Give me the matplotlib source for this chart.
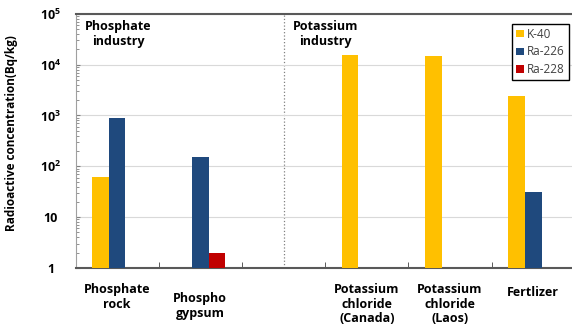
import numpy as np
import matplotlib
matplotlib.use("Agg")
import matplotlib.pyplot as plt
from matplotlib.ticker import FixedLocator, LogLocator, NullFormatter

plt.rcParams['font.family'] = ['Open Sans', 'DejaVu Sans']
plt.rcParams['mathtext.fontset'] = 'custom'
plt.rcParams['mathtext.rm'] = 'Open Sans:bold'
plt.rcParams['mathtext.bf'] = 'Open Sans:bold'

# categories (slot 2 is an empty separator between the two industries)
categories = ['Phosphate\nrock', 'Phospho\ngypsum', '',
              'Potassium\nchloride\n(Canada)', 'Potassium\nchloride\n(Laos)', 'Fertlizer']
k40 = [63, np.nan, np.nan, 15600, 14900, 2430]
ra226 = [885, 151, np.nan, np.nan, np.nan, 31.8]
ra228 = [np.nan, 2.0, np.nan, np.nan, np.nan, np.nan]
series = ['K-40', 'Ra-226', 'Ra-228']
colors = ['#FFC000', '#1F497D', '#C00000']

fig = plt.figure(figsize=(5.72, 3.30), dpi=100)
ax = fig.add_axes([0.132, 0.188, 0.873, 0.770])

x = np.arange(len(categories))
w = 0.2
for i, (vals, name, c) in enumerate(zip([k40, ra226, ra228], series, colors)):
    ax.bar(x + (i - 1) * w, vals, w, bottom=0, color=c, label=name, zorder=3)

ax.set_yscale('log')
ax.set_ylim(1, 1e5)
ax.set_xlim(-0.5, len(categories) - 0.5)

ax.set_yticks([1, 10, 100, 1000, 1e4, 1e5])
ax.set_yticklabels(['1', '10', '$10^{2}$', '$10^{3}$', '$10^{4}$', '$10^{5}$'],
                   fontsize=9, fontweight='bold', ha='center')
ax.yaxis.set_minor_locator(LogLocator(base=10, subs=np.arange(2, 10)))
ax.yaxis.set_minor_formatter(NullFormatter())
ax.tick_params(axis='y', which='both', direction='in', color='#808080')
ax.tick_params(axis='y', which='major', length=3, pad=18)
ax.tick_params(axis='y', which='minor', length=2)

ax.set_xticks(x)
ax.set_xticklabels(categories, fontsize=9, fontweight='bold', va='top', linespacing=1.15)
ax.tick_params(axis='x', which='major', length=0, pad=11)
ax.xaxis.set_minor_locator(FixedLocator(np.arange(0.5, len(categories) - 1, 1)))
ax.tick_params(axis='x', which='minor', direction='in', length=4, color='#404040')
# phospho gypsum label sits a little lower
ax.get_xticklabels()[1].set_y(-0.035)
ax.get_xticklabels()[5].set_y(-0.01)

ax.grid(axis='y', which='major', color='#D9D9D9', linewidth=0.8, zorder=0)
ax.axvline(2, color='#808080', linestyle=':', linewidth=0.9, zorder=1)

for s in ['top', 'bottom']:
    ax.spines[s].set_color('#595959')
    ax.spines[s].set_linewidth(1.5)
ax.spines['left'].set_color('#A0A0A0')
ax.spines['left'].set_linewidth(0.8)
ax.spines['right'].set_visible(False)

ax.text(0.085, 0.975, 'Phosphate\nindustry', transform=ax.transAxes, fontsize=9,
        fontweight='bold', va='top', ha='center', linespacing=1.2)
ax.text(0.50, 0.975, 'Potassium\nindustry', transform=ax.transAxes, fontsize=9,
        fontweight='bold', va='top', ha='center', linespacing=1.2)

ax.set_ylabel('Radioactive concentration(Bq/kg)', fontsize=8.5, fontweight='bold', labelpad=8)
ax.yaxis.set_label_coords(-0.115, 0.53)

leg = ax.legend(loc='upper right', bbox_to_anchor=(1.0, 0.985), fontsize=8.5,
                handlelength=0.6, handleheight=0.6, handletextpad=0.3,
                borderpad=0.35, labelspacing=0.4, fancybox=False, framealpha=1)
leg.get_frame().set_edgecolor('black')
leg.get_frame().set_linewidth(1.0)
for t in leg.get_texts():
    t.set_color('#404040')

fig.savefig('out.png', dpi=100)
